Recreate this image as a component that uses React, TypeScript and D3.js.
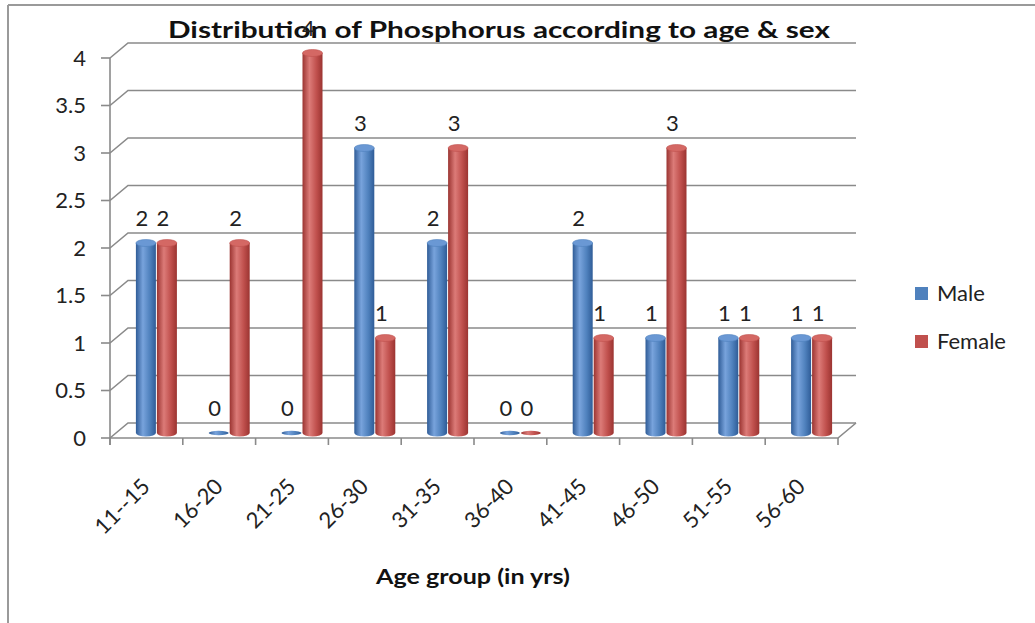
import React from 'react';
import * as d3 from 'd3';

// chart data
const ageGroups = ['11--15', '16-20', '21-25', '26-30', '31-35', '36-40', '41-45', '46-50', '51-55', '56-60'];
const maleValues = [2, 0, 0, 3, 2, 0, 2, 1, 1, 1];
const femaleValues = [2, 2, 4, 1, 3, 0, 1, 3, 1, 1];
const yTicks = [0, 0.5, 1, 1.5, 2, 2.5, 3, 3.5, 4];
const seriesNames = ['Male', 'Female'];

const W = 1035;
const H = 623;
const FONT = 'Lato, "Open Sans", sans-serif';

// front plane of the 3d box
const x0 = 110;
const x1 = 838;
// depth offset to the back wall
const DX = 18;
const DY = -15;
// bars sit a bit behind the front plane
const BDX = 10;
const BDY = -5;

const colors = {
  Male: { dark: '#2f5c97', mid: '#4f81bd', light: '#78a3dc', top: '#6a98d4' },
  Female: { dark: '#9b3431', mid: '#c0504d', light: '#dc7b78', top: '#d46864' },
};

export default function App() {
  const x = d3.scaleBand<string>().domain(ageGroups).range([x0, x1]);
  const y = d3.scaleLinear().domain([0, 4]).range([438, 58]);
  const gridColor = '#8a8a8a';
  const barW = 20;
  const ry = 3.5;

  const series = [
    { name: 'Male', values: maleValues, shift: -10.5 },
    { name: 'Female', values: femaleValues, shift: 10.5 },
  ];

  const cylinder = (cx: number, v: number, name: string, key: string) => {
    const c = colors[name as 'Male' | 'Female'];
    const yb = y(0) + BDY;
    const yt = y(v) + BDY;
    const rx = barW / 2;
    if (v === 0) {
      return (
        <ellipse key={key} cx={cx} cy={yb} rx={rx} ry={2.2} fill={`url(#grad-${name})`} />
      );
    }
    const body = `M${cx - rx},${yt} L${cx - rx},${yb} A${rx},${ry} 0 0 0 ${cx + rx},${yb} L${cx + rx},${yt} Z`;
    return (
      <g key={key}>
        <path d={body} fill={`url(#grad-${name})`} />
        <ellipse cx={cx} cy={yt} rx={rx} ry={ry} fill={c.top} stroke={c.mid} strokeWidth={0.6} />
      </g>
    );
  };

  return (
    <svg width={W} height={H} style={{ position: 'absolute', left: 0, top: 0, background: '#fff' }}>
      <defs>
        {seriesNames.map((n) => {
          const c = colors[n as 'Male' | 'Female'];
          return (
            <linearGradient key={n} id={`grad-${n}`} x1="0" x2="1" y1="0" y2="0">
              <stop offset="0" stopColor={c.dark} />
              <stop offset="0.35" stopColor={c.light} />
              <stop offset="0.7" stopColor={c.mid} />
              <stop offset="1" stopColor={c.dark} />
            </linearGradient>
          );
        })}
      </defs>

      {/* frame */}
      <line x1={8} x2={8} y1={5} y2={H} stroke="#9a9a9a" strokeWidth={2} />
      <line x1={8} x2={W} y1={5} y2={5} stroke="#9a9a9a" strokeWidth={2} />

      {/* back wall gridlines with side diagonals */}
      {yTicks.map((t) => (
        <g key={`g${t}`} stroke={gridColor} strokeWidth={1.6} fill="none">
          <path d={`M${x0},${y(t)} L${x0 + DX},${y(t) + DY} L${x1 + DX},${y(t) + DY}`} />
          <line x1={x0 - 9} x2={x0} y1={y(t)} y2={y(t)} />
        </g>
      ))}
      {/* front axis and floor */}
      <g stroke={gridColor} strokeWidth={1.6} fill="none">
        <line x1={x0} x2={x0} y1={y(4)} y2={y(0) + 7} />
        <path d={`M${x0},${y(0)} L${x1},${y(0)} L${x1 + DX},${y(0) + DY}`} />
        {d3.range(ageGroups.length + 1).map((i) => {
          const xx = x0 + i * x.bandwidth();
          return <line key={i} x1={xx} x2={xx} y1={y(0)} y2={y(0) + 7} />;
        })}
      </g>

      {/* y tick labels */}
      {yTicks.map((t) => (
        <text key={`t${t}`} x={86} y={y(t)} dy="0.35em" textAnchor="end" fontFamily={FONT} fontSize={22} fill="#222">
          {t}
        </text>
      ))}

      {/* title */}
      <text x={499} y={38} textAnchor="middle" fontFamily={FONT} fontWeight="bold" fontSize={23} fill="#111"
        textLength={662} lengthAdjust="spacingAndGlyphs">
        Distribution of Phosphorus  according to age &amp; sex
      </text>

      {/* cylinders */}
      {ageGroups.map((g, i) => {
        const cx = (x(g) as number) + x.bandwidth() / 2 + BDX;
        return series.map((s) => cylinder(cx + s.shift, s.values[i], s.name, `${g}-${s.name}`));
      })}

      {/* data labels */}
      {ageGroups.map((g, i) => {
        const cx = (x(g) as number) + x.bandwidth() / 2 + BDX;
        return series.map((s) => (
          <text key={`l${g}${s.name}`} x={cx + s.shift - 4} y={y(s.values[i]) + BDY - 25} dy="0.35em" textAnchor="middle"
            fontFamily={FONT} fontSize={22} fill="#222">
            {s.values[i]}
          </text>
        ));
      })}

      {/* x tick labels */}
      {ageGroups.map((g) => {
        const cx = (x(g) as number) + x.bandwidth() / 2 + 5;
        return (
          <text key={`x${g}`} transform={`translate(${cx},${488}) rotate(-45)`} textAnchor="end"
            fontFamily={FONT} fontSize={22} fill="#222">
            {g}
          </text>
        );
      })}

      {/* x axis title */}
      <text x={473} y={584} textAnchor="middle" fontFamily={FONT} fontWeight="bold" fontSize={21} fill="#111"
        textLength={194} lengthAdjust="spacingAndGlyphs">
        Age group (in yrs)
      </text>

      {/* legend */}
      {seriesNames.map((n, i) => (
        <g key={`lg${n}`} transform={`translate(915,${287 + i * 48})`}>
          <rect width={13} height={13} fill={colors[n as 'Male' | 'Female'].mid} />
          <text x={22} y={6.5} dy="0.35em" fontFamily={FONT} fontSize={22} fill="#222">
            {n}
          </text>
        </g>
      ))}
    </svg>
  );
}
